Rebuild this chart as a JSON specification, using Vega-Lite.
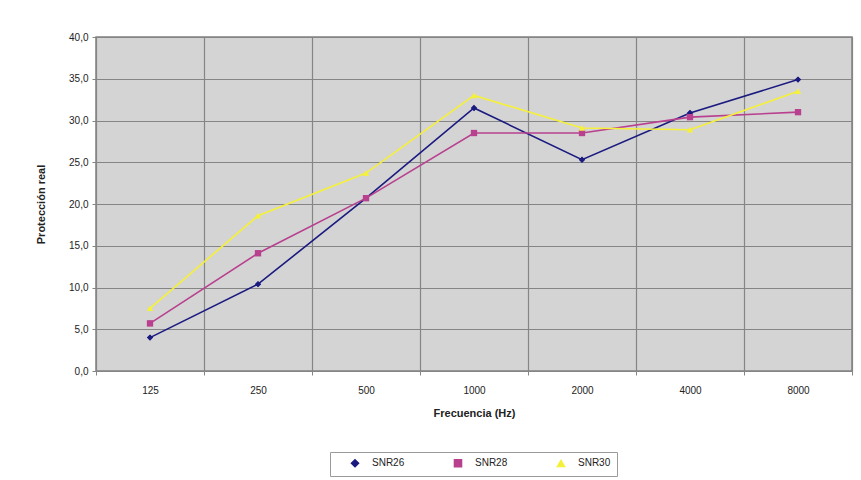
{
  "$schema": "https://vega.github.io/schema/vega-lite/v6.json",
  "width": 756,
  "height": 334,
  "autosize": "none",
  "padding": {"left": 96, "top": 37, "right": 9, "bottom": 109},
  "background": "white",
  "config": {
    "font": "Liberation Sans",
    "view": {"fill": "#d4d4d4", "stroke": "#808080", "strokeWidth": 1.5}
  },
  "data": {
    "values": [
      {"freq": "125", "serie": "SNR26", "valor": 4.0},
      {"freq": "250", "serie": "SNR26", "valor": 10.4},
      {"freq": "500", "serie": "SNR26", "valor": 20.7},
      {"freq": "1000", "serie": "SNR26", "valor": 31.5},
      {"freq": "2000", "serie": "SNR26", "valor": 25.3},
      {"freq": "4000", "serie": "SNR26", "valor": 30.9},
      {"freq": "8000", "serie": "SNR26", "valor": 34.9},
      {"freq": "125", "serie": "SNR28", "valor": 5.7},
      {"freq": "250", "serie": "SNR28", "valor": 14.1},
      {"freq": "500", "serie": "SNR28", "valor": 20.7},
      {"freq": "1000", "serie": "SNR28", "valor": 28.5},
      {"freq": "2000", "serie": "SNR28", "valor": 28.5},
      {"freq": "4000", "serie": "SNR28", "valor": 30.4},
      {"freq": "8000", "serie": "SNR28", "valor": 31.0},
      {"freq": "125", "serie": "SNR30", "valor": 7.5},
      {"freq": "250", "serie": "SNR30", "valor": 18.6},
      {"freq": "500", "serie": "SNR30", "valor": 23.7},
      {"freq": "1000", "serie": "SNR30", "valor": 33.0},
      {"freq": "2000", "serie": "SNR30", "valor": 29.1},
      {"freq": "4000", "serie": "SNR30", "valor": 28.9},
      {"freq": "8000", "serie": "SNR30", "valor": 33.5}
    ]
  },
  "encoding": {
    "x": {
      "field": "freq",
      "type": "ordinal",
      "sort": ["125", "250", "500", "1000", "2000", "4000", "8000"],
      "scale": {"paddingInner": 0, "paddingOuter": 0},
      "axis": {
        "title": "Frecuencia (Hz)",
        "labelAngle": 0,
        "grid": true,
        "tickBand": "extent",
        "gridColor": "#858585",
        "gridWidth": 1.2,
        "domain": false,
        "tickColor": "#858585",
        "tickSize": 4,
        "labelPadding": 10,
        "labelFontSize": 10,
        "labelColor": "#222",
        "titleFontSize": 11,
        "titleFontWeight": "bold",
        "titleColor": "#222",
        "titlePadding": 12
      }
    },
    "y": {
      "field": "valor",
      "type": "quantitative",
      "scale": {"domain": [0, 40]},
      "axis": {
        "title": "Protección real",
        "values": [0, 5, 10, 15, 20, 25, 30, 35, 40],
        "labelExpr": "replace(format(datum.value, '.1f'), '.', ',')",
        "gridColor": "#858585",
        "gridWidth": 1.2,
        "domain": false,
        "tickColor": "#858585",
        "tickSize": 4,
        "labelPadding": 4,
        "labelFontSize": 10,
        "labelColor": "#222",
        "titleFontSize": 11,
        "titleFontWeight": "bold",
        "titleColor": "#222",
        "titlePadding": 22
      }
    },
    "color": {
      "field": "serie",
      "type": "nominal",
      "scale": {"domain": ["SNR26", "SNR28", "SNR30"], "range": ["#1a1a80", "#b8408f", "#f5f03a"]},
      "legend": {
        "title": null,
        "orient": "none",
        "direction": "horizontal",
        "legendX": 234,
        "legendY": 415,
        "strokeColor": "#9a9a9a",
        "padding": 6,
        "labelFontSize": 10,
        "labelColor": "#222",
        "labelOffset": 12,
        "columnPadding": 34,
        "symbolSize": 50,
        "symbolStrokeWidth": 1.5,
        "symbolOffset": 14
      }
    },
    "shape": {
      "field": "serie",
      "type": "nominal",
      "scale": {"domain": ["SNR26", "SNR28", "SNR30"], "range": ["diamond", "square", "triangle-up"]},
      "legend": null
    }
  },
  "layer": [
    {"mark": {"type": "line", "strokeWidth": 1.6}},
    {"mark": {"type": "point", "filled": true, "size": 40, "opacity": 1}}
  ]
}
